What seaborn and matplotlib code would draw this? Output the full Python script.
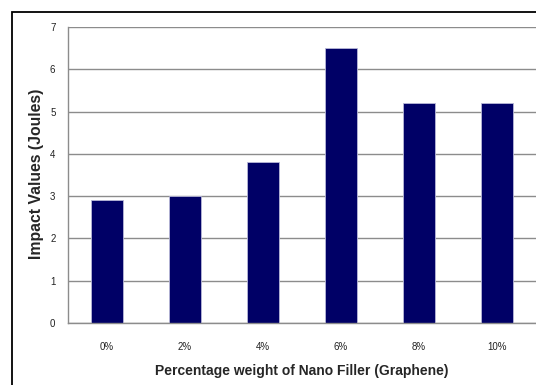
import matplotlib
matplotlib.use("Agg")
import matplotlib.pyplot as plt
import seaborn as sns
import pandas as pd
from matplotlib.patches import Rectangle

categories = ["0%", "2%", "4%", "6%", "8%", "10%"]
impact = [2.9, 3.0, 3.8, 6.5, 5.2, 5.2]
y_ticks = [0, 1, 2, 3, 4, 5, 6, 7]

df = pd.DataFrame({"cat": categories, "val": impact})

sns.set_style("white")
plt.rcParams["font.family"] = ["Liberation Sans", "DejaVu Sans"]

fig = plt.figure(figsize=(5.36, 3.85), dpi=100)
ax = fig.add_axes([68/536, 1-323/385, 1-68/536, (323-27)/385])

sns.barplot(data=df, x="cat", y="val", order=categories, color="#000066",
            width=0.4, saturation=1, edgecolor="#b8b8d8", linewidth=0.6, ax=ax)

ax.set_ylim(0, 7)
ax.set_xlim(-0.5, len(categories) - 0.5)
ax.set_yticks(y_ticks)
ax.yaxis.grid(True, color="#8c8c8c", linewidth=1)
ax.set_axisbelow(True)
for s in ["top", "right"]:
    ax.spines[s].set_visible(False)
for s in ["left", "bottom"]:
    ax.spines[s].set_color("#8c8c8c")
    ax.spines[s].set_linewidth(1)
ax.tick_params(axis="y", labelsize=7, length=3, width=1, color="#8c8c8c",
               labelcolor="#222222", pad=6)
ax.tick_params(axis="x", labelsize=7, length=0, pad=14, labelcolor="#222222")
ax.set_xlabel("Percentage weight of Nano Filler (Graphene)", fontsize=10,
              fontweight="bold", labelpad=8)
ax.set_ylabel("Impact Values (Joules)", fontsize=11.3, fontweight="bold")
ax.yaxis.set_label_coords(-(68 - 44) / (536 - 68), 0.5 + (296/2 - (174 - 27)) / 296)

fig.add_artist(Rectangle((12/536, -0.1), 2.0, 1 - 12/385 + 0.1,
                         transform=fig.transFigure, fill=False,
                         edgecolor="black", linewidth=1.3, clip_on=False))

fig.savefig("out.png", dpi=100)
